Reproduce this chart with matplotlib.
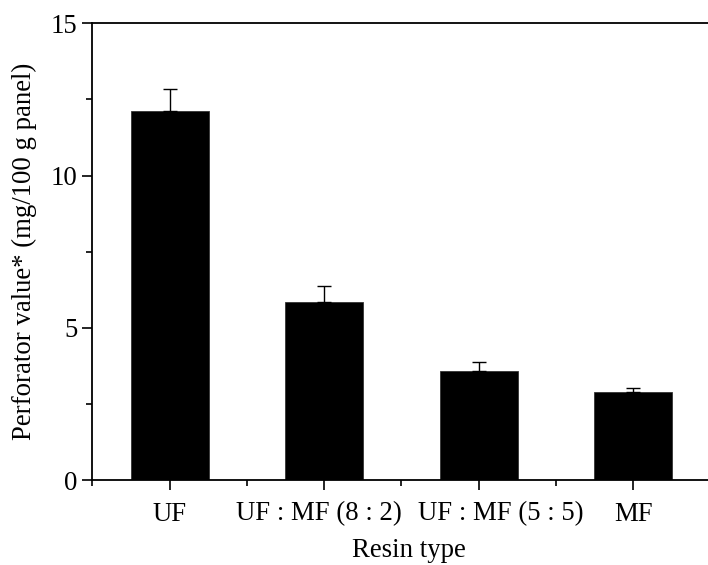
import matplotlib
matplotlib.use("Agg")
import matplotlib.pyplot as plt
import matplotlib.transforms as mtransforms
from matplotlib.ticker import MultipleLocator

categories = ["UF", "UF : MF (8 : 2)", "UF : MF (5 : 5)", "MF"]
values = [12.13, 5.84, 3.58, 2.90]
errors = [0.70, 0.54, 0.31, 0.13]
label_shift_px = [0, -5, 22, 1]

plt.rcParams['font.family'] = ['Liberation Serif', 'DejaVu Serif']
FS = 19.3

fig = plt.figure(figsize=(7.08, 5.65), dpi=100)
ax = fig.add_axes([92.3/708, 85/565, 618/708, 456.7/565])

x = list(range(1, len(categories) + 1))
ax.bar(x, values, width=0.505, color='black', edgecolor='#333333', linewidth=0.6, zorder=2)
ax.errorbar(x, values, yerr=[[0]*len(errors), errors], fmt='none', ecolor='black',
            elinewidth=1.0, capsize=5, capthick=1.0, zorder=3)

ax.set_xlim(0.5, 4.5)
ax.set_ylim(0, 15)
ax.set_xticks(x)
ax.set_xticklabels(categories, fontsize=FS)
ax.xaxis.set_minor_locator(MultipleLocator(0.5))
ax.yaxis.set_major_locator(MultipleLocator(5))
ax.yaxis.set_minor_locator(MultipleLocator(2.5))
ax.tick_params(axis='y', labelsize=FS)
ax.tick_params(which='major', direction='out', length=7.5, width=1.2, pad=3)
ax.tick_params(which='minor', direction='out', length=4.5, width=1.2)
ax.tick_params(axis='x', which='major', pad=8)

for lbl, dx in zip(ax.get_xticklabels(), label_shift_px):
    lbl.set_transform(lbl.get_transform() + mtransforms.ScaledTranslation(dx/100, 0, fig.dpi_scale_trans))

for s in ['left', 'bottom', 'top']:
    ax.spines[s].set_linewidth(1.3)
ax.spines['right'].set_visible(False)

ax.set_xlabel("Resin type", fontsize=FS, labelpad=8.5)
ax.xaxis.label.set_x((409 - 92.3) / 618)
ax.set_ylabel("Perforator value* (mg/100 g panel)", fontsize=FS, labelpad=10)

fig.savefig("out.png", dpi=100)
